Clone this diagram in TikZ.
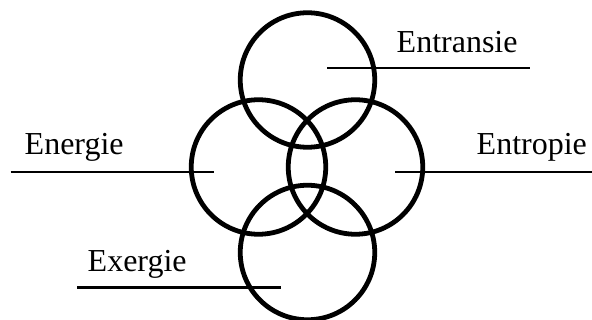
\documentclass[tikz,border=0pt]{standalone}
\usepackage{fontspec}
\setmainfont{Liberation Serif}

\begin{document}
\begin{tikzpicture}[x=1pt, y=-1pt,
    ring/.style={draw, circle, line width=4.8pt, inner sep=0pt, minimum size=134.5pt},
    leader/.style={line width=2.8pt},
    word/.style={anchor=base west, inner sep=0pt, font=\fontsize{32}{36}\selectfont}]
  \useasboundingbox (0,0) rectangle (592,320);

  % the four circles
  \node[ring] (top) at (307.5,80) {};
  \node[ring] (left) at (258.5,167) {};
  \node[ring] (right) at (355.5,167) {};
  \node[ring] (bottom) at (307.5,252.5) {};

  % Entransie
  \coordinate (entransie-a) at (327,68);
  \coordinate (entransie-b) at (530,68);
  \draw[leader] (entransie-a) -- (entransie-b);
  \node[word] (entransie) at (396.5,52.7) {Entransie};

  % Energie
  \coordinate (energie-a) at (10.5,172);
  \coordinate (energie-b) at (214,172);
  \draw[leader] (energie-a) -- (energie-b);
  \node[word] (energie) at (24.5,155) {Energie};

  % Entropie
  \coordinate (entropie-a) at (395,172);
  \coordinate (entropie-b) at (592,172);
  \draw[leader] (entropie-a) -- (entropie-b);
  \node[word] (entropie) at (476.5,155) {Entropie};

  % Exergie
  \coordinate (exergie-a) at (77,287.3);
  \coordinate (exergie-b) at (281,287.3);
  \draw[leader] (exergie-a) -- (exergie-b);
  \node[word] (exergie) at (87.5,272) {Exergie};
\end{tikzpicture}
\end{document}
